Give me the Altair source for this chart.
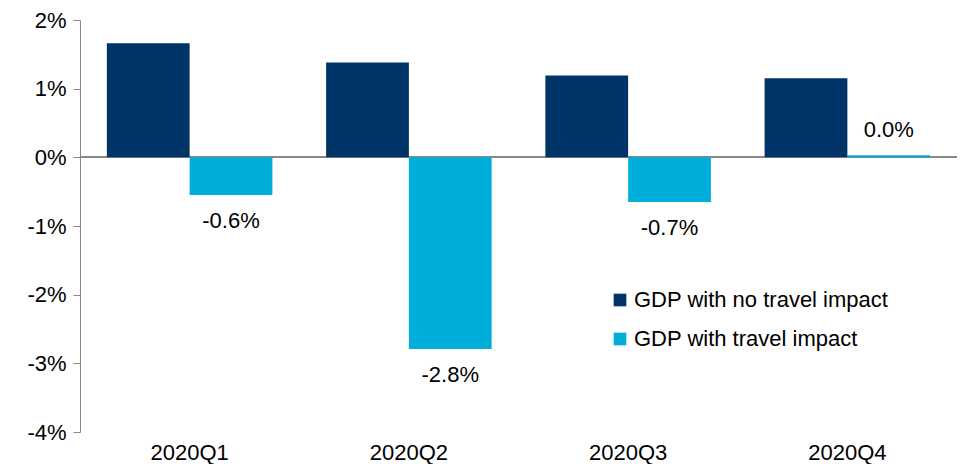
import altair as alt
import pandas as pd

quarters = ["2020Q1", "2020Q2", "2020Q3", "2020Q4"]
series = ["GDP with no travel impact", "GDP with travel impact"]
no_travel = [1.66, 1.38, 1.19, 1.15]
with_travel = [-0.55, -2.79, -0.65, 0.03]
travel_labels = ["-0.6%", "-2.8%", "-0.7%", "0.0%"]
y_ticks = [-4, -3, -2, -1, 0, 1, 2]
colors = ["#003468", "#00AEDB"]

rows = []
for i, q in enumerate(quarters):
    rows.append({"quarter": q, "series": series[0], "value": no_travel[i], "label": ""})
    rows.append({"quarter": q, "series": series[1], "value": with_travel[i], "label": travel_labels[i]})
df = pd.DataFrame(rows)

FONT = "Liberation Sans"
FS = 22

x_enc = alt.X("quarter:N", sort=quarters, title=None,
              scale=alt.Scale(paddingInner=0.245, paddingOuter=0.1225),
              axis=alt.Axis(domain=False, ticks=False, labelPadding=10, labelAngle=0,
                            labelFont=FONT, labelFontSize=FS, labelColor="#000000"))
xoff = alt.XOffset("series:N", sort=series)
y_scale = alt.Scale(domain=[-4, 2], nice=False)

bars = alt.Chart(df).mark_bar().encode(
    x=x_enc,
    xOffset=xoff,
    y=alt.Y("value:Q", scale=y_scale, title=None,
            axis=alt.Axis(values=y_ticks, labelExpr="datum.value + '%'", grid=False,
                          domainColor="#888888", tickColor="#888888", tickSize=7,
                          labelFont=FONT, labelFontSize=FS, labelColor="#000000",
                          labelPadding=7)),
    color=alt.Color("series:N", sort=series, title=None,
                    scale=alt.Scale(domain=series, range=colors),
                    legend=alt.Legend(orient="none", legendX=529, legendY=269,
                                      symbolType="square", symbolSize=160,
                                      symbolStrokeWidth=0, labelLimit=500,
                                      labelFont=FONT, labelFontSize=FS, labelColor="#000000",
                                      rowPadding=17, labelOffset=3)),
)

zero = alt.Chart(df).mark_rule(color="#888888", strokeWidth=1.5).encode(y=alt.datum(0))

lab_df = df[df["series"] == series[1]]
neg_text = alt.Chart(lab_df).transform_filter("datum.value < 0").mark_text(
    font=FONT, fontSize=FS, color="#000000", dy=26).encode(
    x=alt.X("quarter:N", sort=quarters), xOffset=xoff,
    y=alt.Y("value:Q", scale=y_scale), text="label:N")
pos_text = alt.Chart(lab_df).transform_filter("datum.value >= 0").mark_text(
    font=FONT, fontSize=FS, color="#000000", dy=-25).encode(
    x=alt.X("quarter:N", sort=quarters), xOffset=xoff,
    y=alt.Y("value:Q", scale=y_scale), text="label:N")

chart = alt.layer(zero, bars, neg_text, pos_text).properties(
    width=877, height=412,
    autosize=alt.AutoSizeParams(type="none"),
    padding={"left": 72, "top": 12, "right": 0, "bottom": 32},
).configure_view(stroke=None)

chart.save("out.html", embed_options={"renderer": "svg", "actions": False})
